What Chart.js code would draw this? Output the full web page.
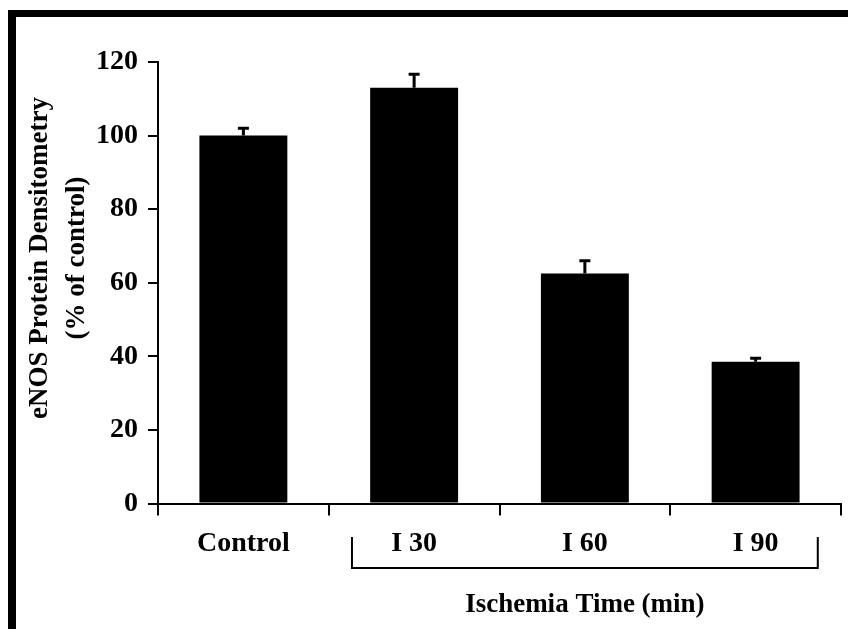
<!DOCTYPE html>
<html><head><meta charset="utf-8">
<script src="https://cdn.jsdelivr.net/npm/chart.js@4"></script>
<style>
html,body{margin:0;padding:0;background:#fff;}
#wrap{position:relative;width:848px;height:629px;overflow:hidden;background:#fff;}
#frame{position:absolute;left:8px;top:10px;width:840px;height:619px;border-top:7px solid #000;border-left:8px solid #000;box-sizing:border-box;pointer-events:none;}
canvas{position:absolute;left:0;top:0;}
</style></head><body>
<div id="wrap"><canvas id="c" width="848" height="629"></canvas><div id="frame"></div></div>
<script>
const categories = ['Control', 'I 30', 'I 60', 'I 90'];
const densitometry = [100, 113, 62.5, 38.5];
const sem = [2, 3.7, 3.5, 1];
const yTicks = [0, 20, 40, 60, 80, 100, 120];
const yTitle = ['eNOS Protein Densitometry', '(% of control)'];
const groupLabel = 'Ischemia Time (min)';
const groupFirst = 1, groupLast = 3;

const FONT = "'Liberation Serif', 'Times New Roman', serif";

const extras = {
  id: 'extras',
  afterDatasetsDraw(chart) {
    const ctx = chart.ctx, ys = chart.scales.y;
    const meta = chart.getDatasetMeta(0);
    ctx.save();
    ctx.strokeStyle = '#000';
    ctx.lineWidth = 3;
    meta.data.forEach((bar, i) => {
      const x = bar.x;
      const yv = ys.getPixelForValue(densitometry[i]);
      const yt = ys.getPixelForValue(densitometry[i] + sem[i]);
      ctx.beginPath();
      ctx.moveTo(x, yv); ctx.lineTo(x, yt);
      ctx.moveTo(x - 5.5, yt); ctx.lineTo(x + 5.5, yt);
      ctx.stroke();
    });
    ctx.restore();
  },
  afterDraw(chart) {
    const ctx = chart.ctx, xs = chart.scales.x;
    const cat = xs.getPixelForValue(1) - xs.getPixelForValue(0);
    const x1 = xs.getPixelForValue(groupFirst) - 0.364 * cat;
    const x2 = xs.getPixelForValue(groupLast) + 0.364 * cat;
    const top = xs.top + 33.5, bot = xs.top + 64.5;
    ctx.save();
    ctx.strokeStyle = '#000';
    ctx.lineWidth = 2;
    ctx.beginPath();
    ctx.moveTo(x1, top); ctx.lineTo(x1, bot); ctx.lineTo(x2, bot); ctx.lineTo(x2, top);
    ctx.stroke();
    ctx.fillStyle = '#000';
    ctx.font = 'bold 27px ' + FONT;
    ctx.textAlign = 'center';
    ctx.textBaseline = 'middle';
    ctx.fillText(groupLabel, (x1 + x2) / 2, xs.top + 101.5);
    // y axis title
    ctx.translate(40, 258);
    ctx.rotate(-Math.PI / 2);
    ctx.fillText(yTitle[0], 0, 0);
    ctx.fillText(yTitle[1], 0, 37);
    ctx.restore();
  }
};

new Chart(document.getElementById('c'), {
  type: 'bar',
  data: {
    labels: categories,
    datasets: [{
      data: densitometry,
      backgroundColor: '#000',
      borderWidth: 0,
      categoryPercentage: 1,
      barPercentage: 0.515
    }]
  },
  options: {
    responsive: false,
    animation: false,
    devicePixelRatio: 1,
    layout: { padding: { left: 0, right: 7, top: 62, bottom: 0 } },
    plugins: { legend: { display: false }, tooltip: { enabled: false }, title: { display: false } },
    scales: {
      y: {
        min: 0, max: 120,
        afterBuildTicks: s => { s.ticks = yTicks.map(v => ({ value: v })); },
        afterFit: s => { s.width = 158; },
        ticks: { color: '#000', font: { family: FONT, size: 28, weight: 'bold' }, padding: 10 },
        grid: { display: true, drawOnChartArea: false, drawTicks: true, tickLength: 10, color: '#000', lineWidth: 2 },
        border: { display: true, color: '#000', width: 2 }
      },
      x: {
        afterFit: s => { s.height = 125.5; },
        ticks: { color: '#000', font: { family: FONT, size: 28, weight: 'bold' }, padding: 11 },
        grid: { display: true, offset: true, drawOnChartArea: false, drawTicks: true, tickLength: 12, color: '#000', lineWidth: 2 },
        border: { display: true, color: '#000', width: 2 }
      }
    }
  },
  plugins: [extras]
});
</script>
</body></html>
